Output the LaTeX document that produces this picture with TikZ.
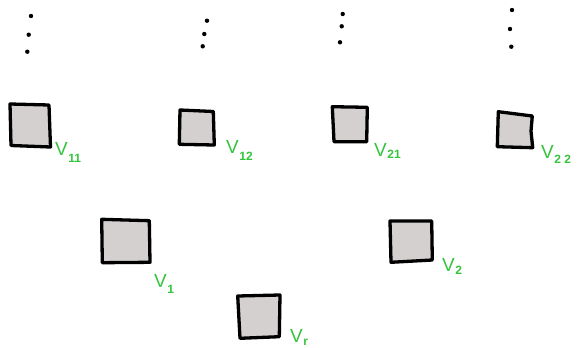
\documentclass[tikz,border=0pt]{standalone}
\usepackage{fontspec}
\setmainfont{Liberation Sans}
\definecolor{boxfill}{RGB}{212,208,208}
\definecolor{labgreen}{RGB}{52,196,60}
\newcommand\vsub[2]{V\kern0.5pt\raisebox{-#2}{\fontsize{12}{12}\bfseries #1}}
\begin{document}
\begin{tikzpicture}[x=1pt,y=-1pt,
  vertexbox/.style={draw=black,fill=boxfill,line width=3.3pt,line join=round},
  vdot/.style={fill=black},
  vlabel/.style={text=labgreen,anchor=base west,inner sep=0pt,font=\fontsize{19}{19}\selectfont}]
\useasboundingbox (0,0) rectangle (581,348);

% continuation dots above the top row
\foreach \x/\y in {31/16, 28.7/34.7, 27.3/51.7,
                   207/20.7, 204.3/34, 202.7/46.3,
                   342.7/14, 341.7/26.3, 340/42.3,
                   512/10, 510/29, 511.3/46.7}
  \fill[vdot] (\x,\y) circle (2.2);

% top row
\draw[vertexbox] (10,104) -- (49,105) -- (50.5,147) -- (11,145.5) -- cycle;
\draw[vertexbox] (180,110) -- (213.3,111.5) -- (214.3,145) -- (179.3,144.3) -- cycle;
\draw[vertexbox] (332.3,106.7) -- (367.3,107.3) -- (366.7,141.7) -- (334,141.7) -- cycle;
\draw[vertexbox] (498.3,111.7) -- (532.3,116) -- (531,131) -- (532.7,147.7) -- (497.3,146.7) -- cycle;

% middle row
\draw[vertexbox] (101.7,219.3) -- (149.3,220.7) -- (150,262.3) -- (102.3,262.7) -- cycle;
\draw[vertexbox] (390,221) -- (431.7,221) -- (432.3,260) -- (391,262.3) -- cycle;

% root
\draw[vertexbox] (237.7,296) -- (280,295) -- (279.3,336.7) -- (240,338.3) -- cycle;

% labels
\node[vlabel] (l11) at (55,155) {\vsub{11}{7pt}};
\node[vlabel] (l12) at (226,153) {\vsub{12}{7pt}};
\node[vlabel] (l21) at (374,156) {\vsub{21}{2pt}};
\node[vlabel] (l22) at (541,158) {\vsub{2 2}{5pt}};
\node[vlabel] (l1) at (154,287) {\vsub{1}{6pt}};
\node[vlabel] (l2) at (442,271) {\vsub{2}{3pt}};
\node[vlabel] (lr) at (290,342) {\vsub{r}{3pt}};
\end{tikzpicture}
\end{document}
